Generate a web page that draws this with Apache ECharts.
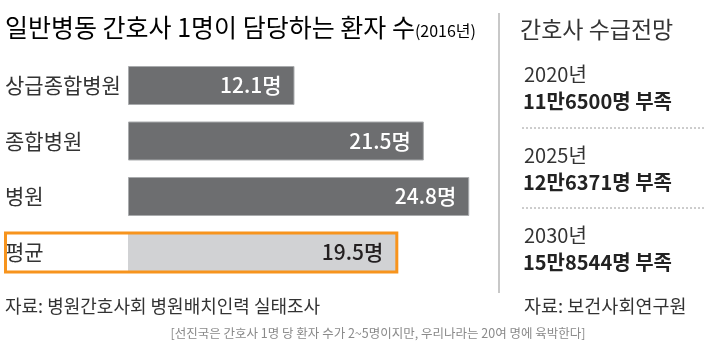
<!DOCTYPE html>
<html>
<head>
<meta charset="utf-8">
<script src="https://cdn.jsdelivr.net/npm/echarts@6/dist/echarts.min.js"></script>
<style>
  html, body { margin: 0; padding: 0; background: #fff; }
  #chart { width: 712px; height: 353px; }
</style>
</head>
<body>
<div id="chart"></div>
<script>
// Data
const categories = ['상급종합병원', '종합병원', '병원', '평균'];
const patients = [12.1, 21.5, 24.8, 19.5];
const forecastYears = ['2020년', '2025년', '2030년'];
const forecastShortage = ['11만6500명 부족', '12만6371명 부족', '15만8544명 부족'];

const FONT = "'Noto Sans CJK KR', sans-serif";
const DARK = '#6d6e70';
const LIGHT = '#d1d2d4';
const ORANGE = '#f7941d';
const TEXT = '#333333';

const chart = echarts.init(document.getElementById('chart'), null, { renderer: 'canvas' });

// helper for a plain text element, vertically centred on y
function label(text, x, y, font, fill, align) {
	return {
		type: 'text',
		style: { text, x, y, font, fill: fill || TEXT, align: align || 'left', verticalAlign: 'middle' }
	};
}

// right-hand panel
const yearCenters = [74, 155, 235];
const panel = [];
forecastYears.forEach((y, i) => {
	panel.push(label(y, 524, yearCenters[i], `20px ${FONT}`));
	panel.push(label(forecastShortage[i], 523, yearCenters[i] + 27, `bold 20px ${FONT}`, '#222'));
});
[128, 208].forEach(y => {
	panel.push({
		type: 'line',
		shape: { x1: 522, y1: y, x2: 706, y2: y },
		style: { stroke: '#9a9a9a', lineWidth: 1, lineDash: [2, 2] }
	});
});

chart.setOption({
	backgroundColor: '#fff',
	animation: false,
	grid: { left: 128, top: 57.75, width: 344, height: 222 },
	xAxis: { type: 'value', min: 0, max: 25, show: false },
	yAxis: {
		type: 'category',
		data: categories,
		inverse: true,
		axisLine: { show: false },
		axisTick: { show: false },
		axisLabel: {
			align: 'left',
			margin: 123,
			color: TEXT,
			fontSize: 21,
			fontFamily: FONT
		}
	},
	series: [{
		type: 'bar',
		barWidth: 39,
		data: patients.map((v, i) => ({
			value: v,
			itemStyle: i === 3
				? { color: LIGHT }
				: { color: DARK, borderColor: '#a9abad', borderWidth: 1 },
			label: { color: i === 3 ? '#231f20' : '#fff' }
		})),
		label: {
			show: true,
			position: 'insideRight',
			distance: 13,
			fontSize: 21,
			fontWeight: 500,
			fontFamily: FONT,
			formatter: p => p.value + '명'
		}
	}],
	graphic: {
		elements: [
			{
				type: 'text',
				style: {
					x: 5, y: 27, verticalAlign: 'middle',
					text: '{a|일반병동 간호사 1명이 담당하는 환자 수}{b|(2016년)}',
					rich: {
						a: { fontSize: 25, fontFamily: FONT, color: TEXT, verticalAlign: 'bottom' },
						b: { fontSize: 16, fontFamily: FONT, color: TEXT, verticalAlign: 'bottom', padding: [0, 0, 1, 0] }
					}
				}
			},
			label('간호사 수급전망', 520, 29, `23px ${FONT}`),
			{
				type: 'line',
				shape: { x1: 499, y1: 13, x2: 499, y2: 293 },
				style: { stroke: '#c8c8c8', lineWidth: 2 }
			},
			label('자료: 병원간호사회 병원배치인력 실태조사', 5, 306, `18px ${FONT}`),
			label('자료: 보건사회연구원', 524, 306, `18.5px ${FONT}`),
			label('[선진국은 간호사 1명 당 환자 수가 2~5명이지만, 우리나라는 20여 명에 육박한다]',
				378, 333, `12.5px ${FONT}`, '#8a8a8a', 'center')
		].concat(panel)
	}
});

// orange highlight box around the average row, placed from the chart's own scales
const avgEnd = chart.convertToPixel({ gridIndex: 0 }, [patients[3], 3]);
chart.setOption({
	graphic: {
		elements: [{
			id: 'avgBox',
			type: 'rect',
			z: 10,
			shape: { x: 5.5, y: avgEnd[1] - 19, width: avgEnd[0] - 5, height: 39 },
			style: { fill: null, stroke: ORANGE, lineWidth: 3 }
		}]
	}
});
</script>
</body>
</html>
